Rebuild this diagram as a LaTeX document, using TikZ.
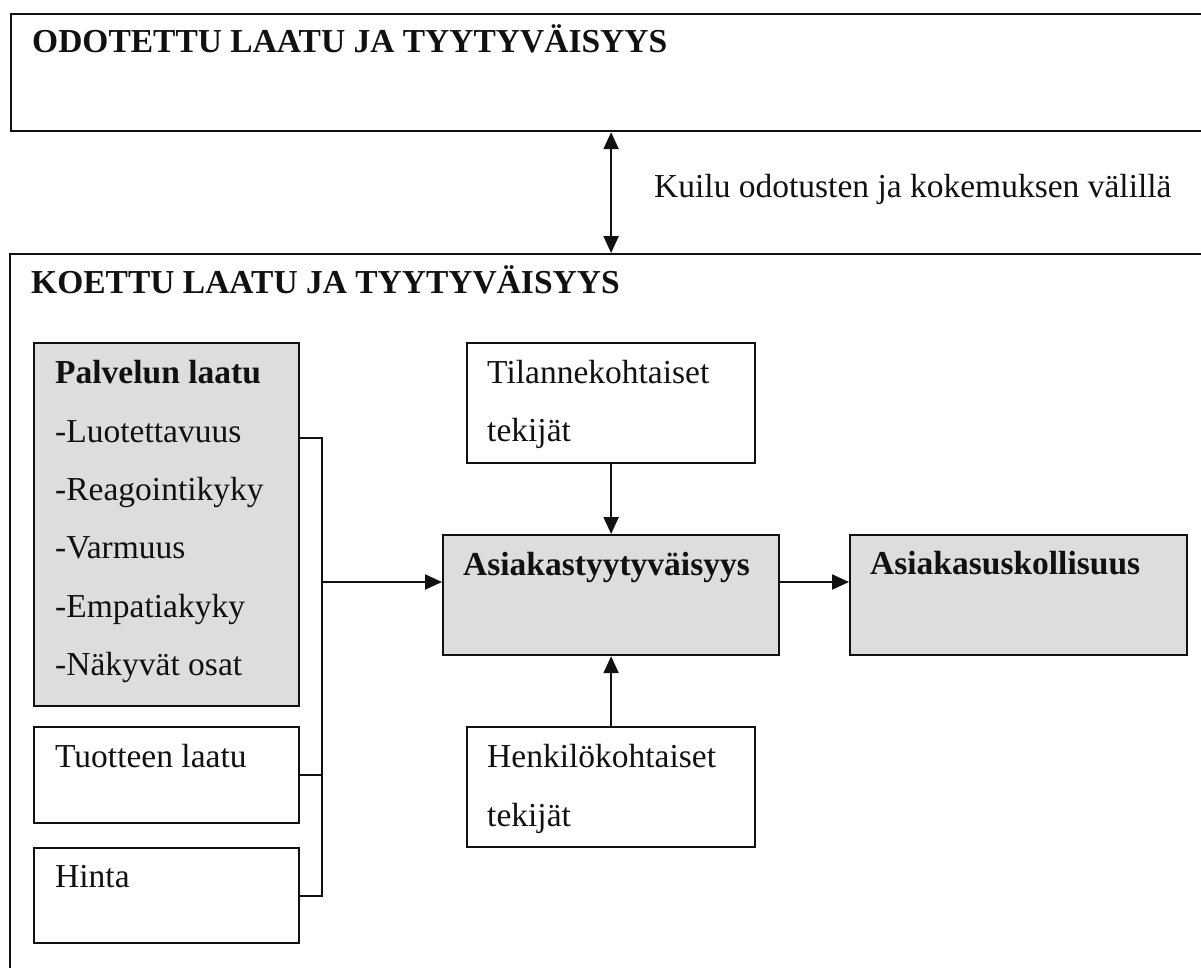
\documentclass[tikz,border=0pt]{standalone}
\usepackage{fontspec}
\setmainfont{Liberation Serif}
\usetikzlibrary{arrows.meta}
\definecolor{ink}{HTML}{111111}
\definecolor{boxgray}{HTML}{DDDDDD}
\tikzset{
  boxline/.style={draw=ink, line width=2.2pt},
  plainbox/.style={boxline, anchor=north west, inner sep=0pt, fill=white},
  graybox/.style={plainbox, fill=boxgray},
  txt/.style={anchor=base west, inner sep=0pt, text=ink,
              font=\fontsize{33.5pt}{40pt}\selectfont},
  btxt/.style={txt, font=\fontsize{33.5pt}{40pt}\selectfont\bfseries},
  link/.style={draw=ink, line width=2.2pt},
  tip/.tip={Triangle[length=17pt,width=15pt]},
  arr/.style={link, -tip},
  darr/.style={link, tip-tip},
}
\begin{document}
\begin{tikzpicture}[x=1pt, y=-1pt]
  \useasboundingbox (0,0) rectangle (1201,967);
  \clip (0,0) rectangle (1201,967);

  % outer frames (they run past the right and bottom edges)
  \node[plainbox, minimum width=1250pt, minimum height=117pt] (odotettu) at (10,13) {};
  \node[plainbox, minimum width=1250pt, minimum height=800pt] (koettu) at (9,253) {};
  \node[btxt] (odotettuT) at (32,52) {ODOTETTU LAATU JA TYYTYVÄISYYS};
  \node[btxt] (koettuT) at (31,293) {KOETTU LAATU JA TYYTYVÄISYYS};

  % left column
  \node[graybox, minimum width=265pt, minimum height=363pt] (pal) at (33,342) {};
  \node[btxt] (palT) at (55,383) {Palvelun laatu};
  \node[txt] (pal1) at (55,442) {-Luotettavuus};
  \node[txt] (pal2) at (55,500) {-Reagointikyky};
  \node[txt] (pal3) at (55,558) {-Varmuus};
  \node[txt] (pal4) at (55,617) {-Empatiakyky};
  \node[txt] (pal5) at (55,675) {-Näkyvät osat};

  \node[plainbox, minimum width=265pt, minimum height=96pt] (tuo) at (33,726) {};
  \node[txt] (tuoT) at (55,767) {Tuotteen laatu};
  \node[plainbox, minimum width=265pt, minimum height=95pt] (hin) at (33,847) {};
  \node[txt] (hinT) at (55,887) {Hinta};

  % middle column
  \node[plainbox, minimum width=288pt, minimum height=120pt] (tila) at (466,342) {};
  \node[txt] (tila1) at (487,383) {Tilannekohtaiset};
  \node[txt] (tila2) at (487,441) {tekijät};

  \node[graybox, minimum width=336pt, minimum height=120pt] (asi) at (442,534) {};
  \node[btxt] (asiT) at (463,575) {Asiakastyytyväisyys};

  \node[plainbox, minimum width=288pt, minimum height=120pt] (hen) at (466,726) {};
  \node[txt] (hen1) at (487,767) {Henkilökohtaiset};
  \node[txt] (hen2) at (487,826) {tekijät};

  % right column
  \node[graybox, minimum width=337pt, minimum height=120pt] (usk) at (849,534) {};
  \node[btxt] (uskT) at (870,574) {Asiakasuskollisuus};

  % gap between expectation and experience
  \draw[darr] (odotettu.south -| tila) -- (koettu.north -| tila);
  \node[txt] (kuilu) at (654,197) {Kuilu odotusten ja kokemuksen välillä};

  % bracket gathering the three quality factors
  \coordinate (jt) at (322,438);
  \coordinate (jm) at (322,582);
  \draw[link] (pal.east |- jt) -- (jt) -- (jt |- hin.east) -- (hin.east);
  \draw[link] (tuo.east) -- (tuo.east -| jt);
  \draw[arr] (jm) -- (asi.west |- jm);

  % influences on satisfaction and on to loyalty
  \draw[arr] (tila.south) -- (asi.north -| tila.south);
  \draw[arr] (hen.north) -- (asi.south -| hen.north);
  \draw[arr] (asi.east |- jm) -- (usk.west |- jm);
\end{tikzpicture}
\end{document}
